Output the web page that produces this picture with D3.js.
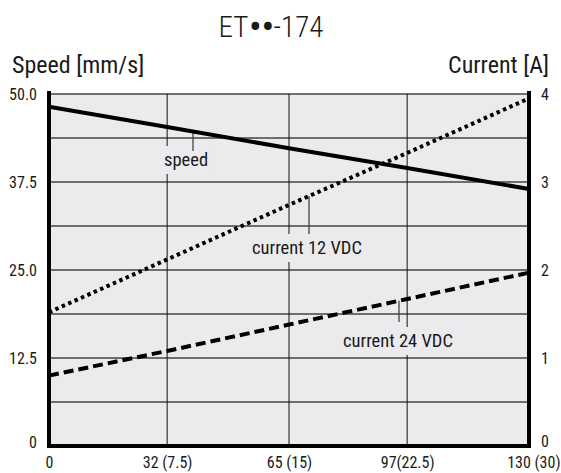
<!DOCTYPE html>
<html><head><meta charset="utf-8">
<script src="https://cdn.jsdelivr.net/npm/d3@7/dist/d3.min.js"></script>
<style>
html,body{margin:0;padding:0;background:#fff;}
svg{display:block;}
text{font-family:"Liberation Sans Narrow","Roboto Condensed","DejaVu Sans Condensed",sans-serif;fill:#1a1a1a;}
</style></head>
<body>
<svg id="chart" width="561" height="473"></svg>
<script>
// ---- data ----
const titleParts = ["ET", "\u2022\u2022", "-174"];
const leftAxisTitle = "Speed [mm/s]";
const rightAxisTitle = "Current [A]";
const xValues = [0, 32, 65, 97, 130];
const xTickLabels = ["0", "32 (7.5)", "65 (15)", "97(22.5)", "130 (30)"];
const speedTicks = [0, 12.5, 25, 37.5, 50];
const speedTickLabels = ["0", "12.5", "25.0", "37.5", "50.0"];
const currentTicks = [0, 1, 2, 3, 4];
const currentTickLabels = ["0", "1", "2", "3", "4"];
const speed = [48.2, 45.3, 42.3, 39.5, 36.5];
const current12 = [1.52, 2.12, 2.74, 3.33, 3.95];
const current24 = [0.80, 1.08, 1.38, 1.67, 1.97];
const labels = [
  {text: "speed", series: "speed"},
  {text: "current 12 VDC", series: "c12"},
  {text: "current 24 VDC", series: "c24"}
];

// ---- layout ----
const m = {left: 49, right: 529, top: 94, bottom: 446};
const svg = d3.select("#chart");
const x = d3.scaleLinear().domain([0, 130]).range([m.left, m.right]);
const yS = d3.scaleLinear().domain([0, 50]).range([m.bottom, m.top]);
const yC = d3.scaleLinear().domain([0, 4]).range([m.bottom, m.top]);
const bg = "#ebebed";

svg.append("rect").attr("x", m.left).attr("y", m.top)
  .attr("width", m.right - m.left).attr("height", m.bottom - m.top)
  .attr("fill", bg);

// horizontal gridlines
const hGrid = d3.range(1, 9).map(i => i * 6.25);
svg.append("g").selectAll("line").data(hGrid).join("line")
  .attr("x1", m.left).attr("x2", m.right)
  .attr("y1", d => yS(d)).attr("y2", d => yS(d))
  .attr("stroke", "#444").attr("stroke-width", 1.3);

// vertical gridlines
svg.append("g").selectAll("line").data(xValues.slice(1, -1)).join("line")
  .attr("x1", d => x(d)).attr("x2", d => x(d))
  .attr("y1", m.top).attr("y2", m.bottom)
  .attr("stroke", "#111").attr("stroke-width", 1);

// series
const seriesDefs = {
  speed: {vals: speed, y: yS, dash: null},
  c12: {vals: current12, y: yC, dash: "3.5,3.5"},
  c24: {vals: current24, y: yC, dash: "10,5"}
};

// labels with background + leader lines
const labelPos = {
  speed: {tx: 164, ty: 166, lx: 193, ly2: 151},
  c12: {tx: 252, ty: 254, lx: 309, ly2: 234},
  c24: {tx: 343, ty: 347, lx: 399, ly2: 322}
};
labels.forEach(l => {
  const p = labelPos[l.series];
  const t = svg.append("text").attr("x", p.tx).attr("y", p.ty)
    .attr("font-size", 18.5).text(l.text);
  const bb = t.node().getBBox();
  svg.insert("rect", () => t.node())
    .attr("x", bb.x - 2).attr("y", bb.y - 3)
    .attr("width", bb.width + 4).attr("height", bb.height + 6)
    .attr("fill", bg);
  const s = seriesDefs[l.series];
  const xv = x.invert(p.lx);
  const lineY = d3.scaleLinear().domain(xValues).range(s.vals.map(v => s.y(v)))(xv);
  svg.append("line").attr("x1", p.lx).attr("x2", p.lx)
    .attr("y1", lineY).attr("y2", p.ly2)
    .attr("stroke", "#444").attr("stroke-width", 1.3);
});

Object.keys(seriesDefs).forEach(k => {
  const s = seriesDefs[k];
  const line = d3.line().x((d, i) => x(xValues[i])).y(d => s.y(d));
  svg.append("path").datum(s.vals).attr("d", line)
    .attr("fill", "none").attr("stroke", "#000").attr("stroke-width", 4)
    .attr("stroke-dasharray", s.dash);
});

// axes frames (thick)
svg.append("line").attr("x1", m.left).attr("x2", m.left).attr("y1", m.top - 3).attr("y2", m.bottom + 2)
  .attr("stroke", "#000").attr("stroke-width", 4);
svg.append("line").attr("x1", m.right).attr("x2", m.right).attr("y1", m.top - 3).attr("y2", m.bottom + 2)
  .attr("stroke", "#000").attr("stroke-width", 4);
svg.append("line").attr("x1", m.left - 2).attr("x2", m.right + 2).attr("y1", m.bottom).attr("y2", m.bottom)
  .attr("stroke", "#000").attr("stroke-width", 4);

// left axis labels
const leftAxis = d3.axisLeft(yS).tickValues(speedTicks)
  .tickFormat((d, i) => speedTickLabels[i]).tickSize(0).tickPadding(12);
svg.append("g").attr("transform", `translate(${m.left},0)`).call(leftAxis)
  .call(g => g.select(".domain").remove())
  .selectAll("text").attr("font-size", 16).attr("fill", "#1a1a1a")
  .attr("dy", (d) => d === 0 ? "0.1em" : "0.32em");

// right axis labels
const rightAxis = d3.axisRight(yC).tickValues(currentTicks)
  .tickFormat((d, i) => currentTickLabels[i]).tickSize(0).tickPadding(12);
svg.append("g").attr("transform", `translate(${m.right},0)`).call(rightAxis)
  .call(g => g.select(".domain").remove())
  .selectAll("text").attr("font-size", 16).attr("fill", "#1a1a1a")
  .attr("dy", (d) => d === 0 ? "0.05em" : "0.32em");

// bottom axis labels
const bottomAxis = d3.axisBottom(x).tickValues(xValues)
  .tickFormat((d, i) => xTickLabels[i]).tickSize(0).tickPadding(11);
svg.append("g").attr("transform", `translate(0,${m.bottom})`).call(bottomAxis)
  .call(g => g.select(".domain").remove())
  .selectAll("text").attr("font-size", 16).attr("fill", "#1a1a1a")
  .attr("text-anchor", (d, i) => i === xValues.length - 1 ? "end" : "middle")
  .attr("x", (d, i) => i === xValues.length - 1 ? 31 : 0);

// titles
const tt = svg.append("text").attr("x", 271).attr("y", 37).attr("text-anchor", "middle")
  .attr("font-size", 29).attr("font-weight", 300);
tt.append("tspan").text(titleParts[0]);
tt.append("tspan").attr("font-size", 42).attr("dy", 4).attr("letter-spacing", -1).text(titleParts[1]);
tt.append("tspan").attr("dy", -4).text(titleParts[2]);
svg.append("text").attr("x", 12).attr("y", 73).attr("font-size", 24).text(leftAxisTitle);
svg.append("text").attr("x", 549).attr("y", 73).attr("text-anchor", "end")
  .attr("font-size", 24).text(rightAxisTitle);
</script>
</body></html>
